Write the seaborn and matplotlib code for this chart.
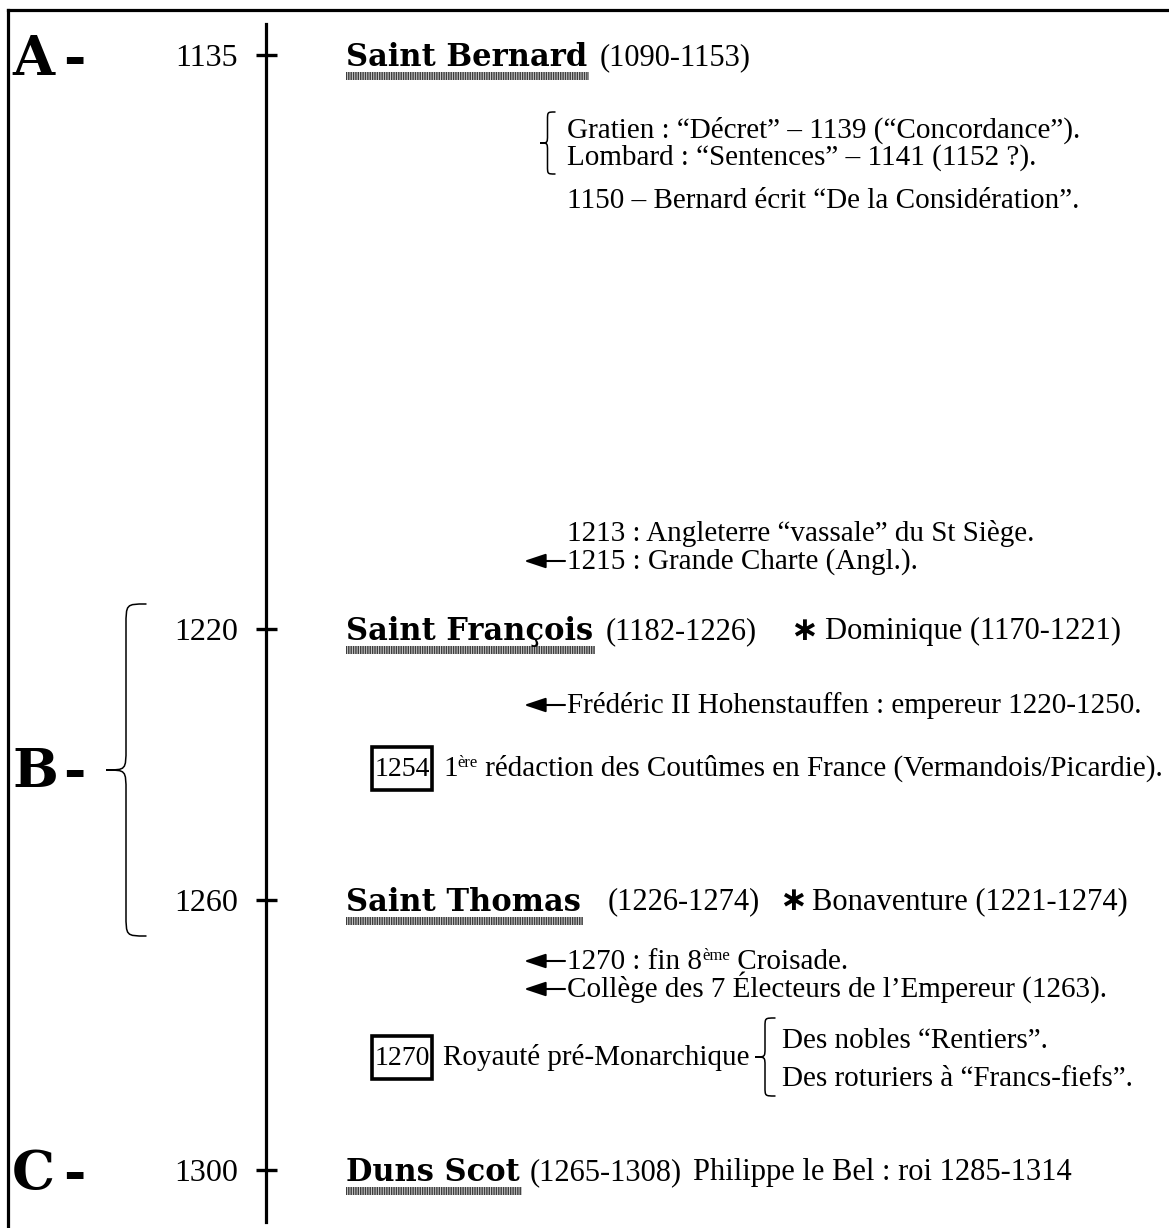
import numpy as np
import pandas as pd
import seaborn as sns
import matplotlib
matplotlib.use("Agg")
import matplotlib.pyplot as plt
from matplotlib.patches import Rectangle, PathPatch
from matplotlib.path import Path

# ---------------- data ----------------
years = [1135, 1220, 1260, 1300]
period_labels = ["A -", "B -", "C -"]
names = ["Saint Bernard", "Saint François", "Saint Thomas", "Duns Scot"]
lifespans = ["(1090-1153)", "(1182-1226)", "(1226-1274)", "(1265-1308)"]
companion_marks = ["", "∗", "∗", ""]
companions = ["", "Dominique (1170-1221)", "Bonaventure (1221-1274)",
              "Philippe le Bel : roi 1285-1314"]

brace_notes = ["Gratien : “Décret” – 1139 (“Concordance”).",
               "Lombard : “Sentences” – 1141 (1152 ?)."]
plain_notes = ["1150 – Bernard écrit “De la Considération”.",
               "1213 : Angleterre “vassale” du St Siège."]
arrow_notes = ["1215 : Grande Charte (Angl.).",
               "Frédéric II Hohenstauffen : empereur 1220-1250.",
               ("1270 : fin 8", "ème", " Croisade."),
               "Collège des 7 Électeurs de l’Empereur (1263)."]
boxed_years = ["1254", "1270"]
boxed_texts = [("1", "ère", " rédaction des Coutûmes en France (Vermandois/Picardie)."),
               ("Royauté pré-Monarchique", "", "")]
royalty_branches = ["Des nobles “Rentiers”.", "Des roturiers à “Francs-fiefs”."]

# ---------------- layout ----------------
sns.set_theme(style="white")
plt.rcParams['font.family'] = ['Liberation Serif', 'DejaVu Serif']
plt.rcParams['text.color'] = 'black'
plt.rcParams['ytick.color'] = 'black'
plt.rcParams['ytick.labelcolor'] = 'black'
plt.rcParams['hatch.linewidth'] = 1.0

W, H = 1169, 1228
fig = plt.figure(figsize=(W / 100, H / 100), dpi=100)
fig.patch.set_facecolor("white")
ax = fig.add_axes([0, 0, 1, 1])
ax.set_xlim(0, W)
ax.set_ylim(H, 0)
ax.axis("off")

BODY = 21
BOLD_FONT = ['DejaVu Serif']

# timeline axis (spine + tick labels in year units)
line_x, top_px, bot_px = 266, 24, 1222
first_px, last_px = 55, 1170
k = (years[-1] - years[0]) / (last_px - first_px)
ax_t = fig.add_axes([line_x / W, 1 - bot_px / H, 0.0005, (bot_px - top_px) / H])
ax_t.patch.set_alpha(0)
ax_t.set_xlim(0, 1)
ax_t.set_ylim(years[0] + (bot_px - first_px) * k, years[0] - (first_px - top_px) * k)
ax_t.set_yticks(years)
ax_t.set_yticklabels([str(y) for y in years], fontsize=23,
                     fontfamily=['Liberation Serif'], color='black')
ax_t.tick_params(axis='y', length=0, pad=20, left=False, labelleft=True)
ax_t.xaxis.set_visible(False)
sns.despine(ax=ax_t, left=False, bottom=True, top=True, right=True)
ax_t.spines['left'].set_linewidth(2.3)
ax_t.spines['left'].set_color('black')
ax_t.grid(False)

fig.canvas.draw()
R = fig.canvas.get_renderer()


def year_px(y):
    disp = ax_t.transData.transform((0, y))
    return ax.transData.inverted().transform(disp)[1]


# tick crosses on the timeline, positioned by the year scale
tick_df = pd.DataFrame({"year": years,
                        "py": [year_px(y) for y in years]})
ax.hlines(tick_df["py"], line_x - 10.5, line_x + 11, color='black', lw=2.4, zorder=6)


def right_of(t):
    bb = t.get_window_extent(R)
    return ax.transData.inverted().transform((bb.x1, bb.y0))[0]


def seq(x, base, parts):
    for txt, size, dy in parts:
        if not txt:
            continue
        t = ax.text(x, base + dy, txt, fontsize=size, va='baseline', ha='left')
        x = right_of(t)
    return x


def brace(x_tip, x_end, y0, y1, lw=1.2, r=8):
    xv = (x_tip + x_end) / 2
    ym = (y0 + y1) / 2
    verts = [(x_end, y0), (xv, y0), (xv, y0), (xv, y0 + r),
             (xv, ym - r),
             (xv, ym), (xv, ym), (x_tip, ym),
             (xv, ym), (xv, ym), (xv, ym + r),
             (xv, y1 - r),
             (xv, y1), (xv, y1), (x_end, y1)]
    codes = [Path.MOVETO, Path.CURVE4, Path.CURVE4, Path.CURVE4,
             Path.LINETO,
             Path.CURVE4, Path.CURVE4, Path.CURVE4,
             Path.CURVE4, Path.CURVE4, Path.CURVE4,
             Path.LINETO,
             Path.CURVE4, Path.CURVE4, Path.CURVE4]
    ax.add_patch(PathPatch(Path(verts, codes), fill=False, lw=lw, color='black',
                           capstyle='round'))


def arrow(y, x_from=565, x_to=524):
    ax.annotate('', xy=(x_to, y), xytext=(x_from, y),
                arrowprops=dict(arrowstyle='-|>,head_length=0.6,head_width=0.2',
                                color='black', lw=1.5, shrinkA=0, shrinkB=0,
                                mutation_scale=22))


# frame
ax.plot([8, 8], [H, 10], color='black', lw=2.3, solid_capstyle='projecting')
ax.plot([8, W], [10, 10], color='black', lw=2.3, solid_capstyle='projecting')

# period letters
period_y = [year_px(years[0]), 768, year_px(years[-1])]
for lab, yy in zip(period_labels, period_y):
    letter, dash = lab.split()
    ax.text(12, yy + 20, letter, fontsize=39, fontweight='bold', family=BOLD_FONT,
            va='baseline', ha='left')
    ax.text(63, yy + 20, dash, fontsize=39, fontweight='bold', family=BOLD_FONT,
            va='baseline', ha='left')
brace(106, 146, 604, 936, lw=1.1, r=22)

# name rows
life_x = [600, 606, 608, 530]
mark_x = [None, 790, 779, None]
comp_x = [None, 825, 812, 693]
for i, yr in enumerate(years):
    yc = year_px(yr)
    base = yc + 11
    t = ax.text(346, base, names[i], fontsize=22, fontweight='bold',
                family=BOLD_FONT, va='baseline', ha='left')
    xr = right_of(t)
    ax.add_patch(Rectangle((346, base + 6), xr - 346 + 2, 8, facecolor='#cfcfcf',
                           edgecolor='#3c3c3c', hatch='|||||||', lw=0))
    ax.text(life_x[i], base - 1, lifespans[i], fontsize=BODY + 1, va='baseline',
            ha='left')
    if companion_marks[i]:
        ax.text(mark_x[i], yc + 1, companion_marks[i], fontsize=24, fontweight='bold',
                family=['DejaVu Sans'], va='center', ha='left')
    if companions[i]:
        ax.text(comp_x[i], base - 1, companions[i], fontsize=BODY + 1, va='baseline',
                ha='left')

# notes with brace (Saint Bernard)
for txt, yy in zip(brace_notes, [130, 157]):
    ax.text(567, yy + 8, txt, fontsize=BODY, va='baseline', ha='left')
brace(540, 555, 112, 174, lw=1.1, r=8)

for txt, yy in zip(plain_notes, [200, 533]):
    ax.text(567, yy + 8, txt, fontsize=BODY, va='baseline', ha='left')

# arrow notes
for txt, yy in zip(arrow_notes, [561, 705, 961, 989]):
    arrow(yy)
    if isinstance(txt, tuple):
        seq(567, yy + 8, [(txt[0], BODY, 0), (txt[1], 12, -9),
                          (" " + txt[2].strip(), BODY, 0)])
    else:
        ax.text(567, yy + 8, txt, fontsize=BODY, va='baseline', ha='left')

# boxed years
for by, (a, sup, b), yy in zip(boxed_years, boxed_texts, [768, 1057]):
    ax.add_patch(Rectangle((372, yy - 21), 60, 43, facecolor='white',
                           edgecolor='black', lw=2.6))
    ax.text(402, yy + 8, by, fontsize=20, va='baseline', ha='center')
    parts = [(a, BODY, 0)]
    if sup:
        parts.append((sup, 12, -9))
        parts.append((b, BODY, 0))
    seq(443, yy + 8, parts)

# royalty branches
brace(755, 775, 1018, 1096, lw=1.1, r=9)
for txt, yy in zip(royalty_branches, [1040, 1078]):
    ax.text(782, yy + 8, txt, fontsize=BODY, va='baseline', ha='left')

fig.savefig("out.png", dpi=100, facecolor='white')
